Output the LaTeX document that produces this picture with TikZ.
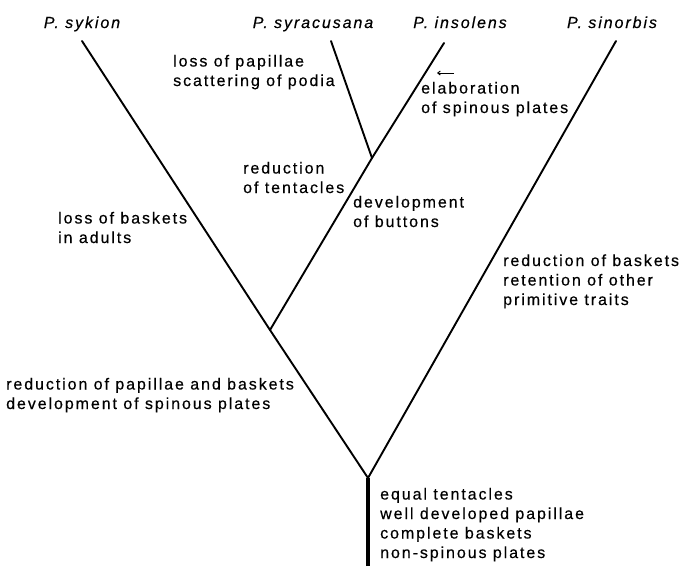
\documentclass[tikz,border=0pt]{standalone}
\usepackage{fontspec}
\usetikzlibrary{arrows.meta}
\setmainfont{Liberation Sans}[LetterSpace=12, FakeBold=0.4]

\tikzset{
  branch/.style={line width=1.9pt, line cap=round},
  trunk/.style={line width=4.5pt},
  species/.style={font=\fontsize{16}{19.5}\selectfont\itshape, inner sep=0pt, anchor=base},
  trait/.style={font=\fontsize{16}{19.5}\selectfont, align=left, inner sep=0pt, anchor=base west},
}

\begin{document}
\begin{tikzpicture}[x=1pt, y=-1pt]
\useasboundingbox (0,0) rectangle (683,566);

	%% Artnamen
	\node[species] (sykion)     at (82,28)  {P. sykion};
	\node[species] (syracusana) at (313,28) {P. syracusana};
	\node[species] (insolens)   at (460,28) {P. insolens};
	\node[species] (sinorbis)   at (612,28) {P. sinorbis};

	%% Verzweigungspunkte
	\coordinate (root)   at (368,566);
	\coordinate (fork)   at (368,478);
	\coordinate (jInner) at (270,330);
	\coordinate (jSyr)   at (372,158);
	\coordinate (sykTop) at (82,41);
	\coordinate (syrTop) at (331,41);
	\coordinate (insTop) at (444,43);
	\coordinate (sinTop) at (616,41);

	%%%%%%%%%%%%%%%%

	%% Stammbaum
	\draw[trunk] (root) -- (fork);
	\draw[branch] (fork) -- (jInner) -- (sykTop);
	\draw[branch] (fork) -- (sinTop);
	\draw[branch] (jInner) -- (jSyr) -- (insTop);
	\draw[branch] (jSyr) -- (syrTop);

	%% Merkmale (Grundlinie der letzten Zeile)
	\node[trait] (tPodia)   at (173,86)  {loss of papillae\\scattering of podia};
	\node[trait] (tSpinous) at (421,113) {elaboration\\of spinous plates};
	\node[trait] (tTentac)  at (243,193) {reduction\\of tentacles};
	\node[trait] (tButtons) at (353,227) {development\\of buttons};
	\node[trait] (tAdults)  at (58,243)  {loss of baskets\\in adults};
	\node[trait] (tSinorb)  at (503,305) {reduction of baskets\\retention of other\\primitive traits};
	\node[trait] (tPapill)  at (6,409)   {reduction of papillae and baskets\\development of spinous plates};
	\node[trait] (tRoot)    at (380,558) {equal tentacles\\well developed papillae\\complete baskets\\non-spinous plates};

	%% Pfeilchen
	\coordinate (arrR) at (454,73);
	\coordinate (arrL) at (437,73);
	\draw[line width=1pt, -{Straight Barb[length=2.5pt, width=4pt]}] (arrR) -- (arrL);

%\draw (current bounding box.south west) rectangle (current bounding box.north east);
\end{tikzpicture}
\end{document}
